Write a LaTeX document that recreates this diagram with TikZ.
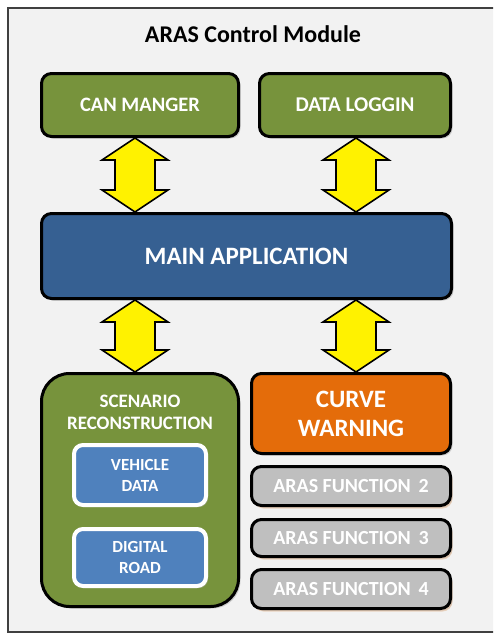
\documentclass[tikz,border=0pt]{standalone}
\usepackage{fontspec}
\setmainfont{Carlito}
\usetikzlibrary{calc,shadows}
\definecolor{bgc}{HTML}{F2F2F2}
\definecolor{olive}{HTML}{77933C}
\definecolor{mainblue}{HTML}{366092}
\definecolor{lblue}{HTML}{4F81BD}
\definecolor{orng}{HTML}{E46C0A}
\definecolor{gryf}{HTML}{BFBFBF}
\definecolor{tan}{HTML}{E2B48C}
\tikzset{
  box/.style={draw=black, line width=3pt, rounded corners=10pt, inner sep=0pt,
    text=white, font=\bfseries, align=center,
    drop shadow={shadow xshift=2pt, shadow yshift=-2pt, fill=black!35}},
  greenbox/.style={box, fill=olive},
  funcbox/.style={box, fill=gryf, minimum width=199pt, minimum height=39pt,
    font=\bfseries\fontsize{20}{24}\selectfont,
    drop shadow={shadow xshift=2pt, shadow yshift=-3pt, fill=tan}},
  innerbox/.style={draw=white, line width=4pt, rounded corners=9pt, fill=lblue,
    inner sep=0pt, minimum width=132pt, text=white, align=center,
    font=\bfseries\fontsize{17}{21}\selectfont,
    drop shadow={shadow xshift=2pt, shadow yshift=-2pt, fill=black!30}},
  yarrow/.style={draw=black, line width=1.6pt, fill=yellow, line join=miter},
}
\newcommand{\yarr}[2]{%
  \draw[yarrow] (#1) -- ($(#1)+(33,22)$) -- ($(#1)+(20,22)$) -- ($(#2)+(20,-22)$)
    -- ($(#2)+(33,-22)$) -- (#2) -- ($(#2)+(-33,-22)$) -- ($(#2)+(-20,-22)$)
    -- ($(#1)+(-20,22)$) -- ($(#1)+(-33,22)$) -- cycle;}
\begin{document}
\begin{tikzpicture}[x=1pt,y=-1pt]
\useasboundingbox (0,0) rectangle (493,634);
\begin{scope}
\clip (0,0) rectangle (493,634);
\draw[line width=1.5pt, draw=black!75, fill=bgc] (8,8) rectangle (510,632);
\end{scope}
\node[font=\bfseries\fontsize{24}{28}\selectfont, text=black] (title) at (253,34) {ARAS Control Module};

\node[greenbox, minimum width=197pt, minimum height=63pt, font=\bfseries\fontsize{20.5}{24}\selectfont] (can) at (140,105) {CAN MANGER};
\node[greenbox, minimum width=191pt, minimum height=63pt, font=\bfseries\fontsize{21}{24}\selectfont] (data) at (355,105) {DATA LOGGIN};
\node[box, fill=mainblue, minimum width=410pt, minimum height=85pt, font=\bfseries\fontsize{25}{28}\selectfont] (main) at (246.5,256) {MAIN APPLICATION};

\node[greenbox, rounded corners=28pt, minimum width=197pt, minimum height=233pt] (scen) at (140,490) {};
\node[text=white, align=center, font=\bfseries\fontsize{19}{22}\selectfont] (scenlbl) at (140,412.5) {SCENARIO\\RECONSTRUCTION};
\node[innerbox, minimum height=60pt] (veh) at (140,475) {VEHICLE\\DATA};
\node[innerbox, minimum height=57pt] (road) at (140,557.5) {DIGITAL\\ROAD};

\node[box, fill=orng, minimum width=199pt, minimum height=80pt, font=\bfseries\fontsize{25}{29}\selectfont] (curve) at (351,413.5) {CURVE\\WARNING};
\node[funcbox] (f2) at (351,486) {ARAS FUNCTION\, 2};
\node[funcbox, minimum height=37pt] (f3) at (351,538) {ARAS FUNCTION\, 3};
\node[funcbox] (f4) at (351,589) {ARAS FUNCTION\, 4};

\coordinate (colL) at (135,0);
\coordinate (colR) at (356,0);
\coordinate (a1) at (can.south -| colL);
\coordinate (b1) at (main.north -| colL);
\coordinate (a2) at (data.south -| colR);
\coordinate (b2) at (main.north -| colR);
\coordinate (a3) at (main.south -| colL);
\coordinate (b3) at (scen.north -| colL);
\coordinate (a4) at (main.south -| colR);
\coordinate (b4) at (curve.north -| colR);
\yarr{a1}{b1}
\yarr{a2}{b2}
\yarr{a3}{b3}
\yarr{a4}{b4}
\end{tikzpicture}
\end{document}
